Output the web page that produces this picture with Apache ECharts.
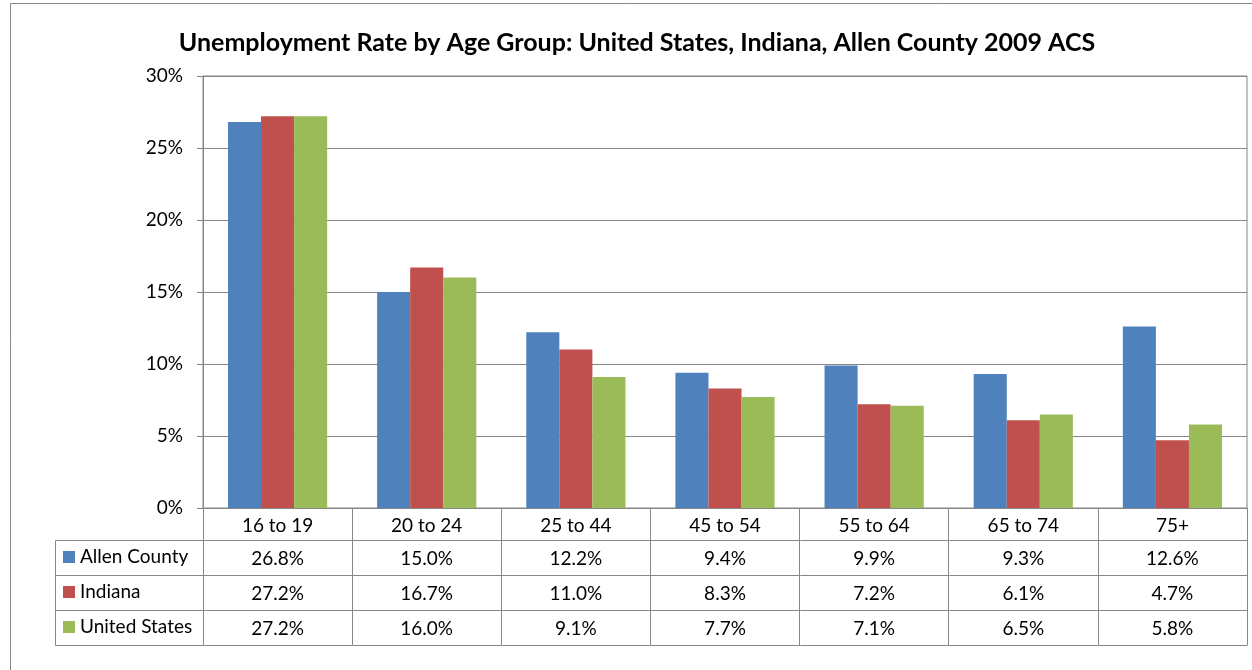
<!DOCTYPE html>
<html>
<head>
<meta charset="utf-8">
<script src="https://cdn.jsdelivr.net/npm/echarts@6/dist/echarts.min.js"></script>
<style>
  html, body { margin: 0; padding: 0; background: #fff; }
  #chart { width: 1252px; height: 670px; }
</style>
</head>
<body>
<div id="chart"></div>
<script>
  // Data
  const categories = ["16 to 19", "20 to 24", "25 to 44", "45 to 54", "55 to 64", "65 to 74", "75+"];
  const allenCounty = [26.8, 15.0, 12.2, 9.4, 9.9, 9.3, 12.6];
  const indiana = [27.2, 16.7, 11.0, 8.3, 7.2, 6.1, 4.7];
  const unitedStates = [27.2, 16.0, 9.1, 7.7, 7.1, 6.5, 5.8];
  const seriesNames = ["Allen County", "Indiana", "United States"];

  const FONT = "Lato";
  const FS = 19;
  const LINE = "#868686";
  const colors = ["#4F81BD", "#C0504D", "#9BBB59"];
  const rows = [allenCounty, indiana, unitedStates];

  // data table geometry (below the x axis)
  const HEADER_H = 32;
  const ROW_H = 35;
  const LEGEND_COL_W = 148;

  const chart = echarts.init(document.getElementById("chart"));

  const crisp = (v) => Math.round(v) + 0.5;

  function renderTable(params, api) {
    const i = api.value(0);
    const pt = api.coord([i, 0]);
    const w = api.size([1, 0])[0];
    const x0 = crisp(pt[0] - w / 2);
    const x1 = crisp(pt[0] + w / 2);
    const y0 = pt[1];
    const children = [];
    const hline = (xa, xb, y) => children.push({
      type: "line",
      shape: { x1: xa, y1: crisp(y), x2: xb, y2: crisp(y) },
      style: { stroke: LINE, lineWidth: 1 },
    });
    for (let r = 0; r <= rows.length; r++) {
      hline(x0, x1, y0 + HEADER_H + r * ROW_H);
    }
    rows.forEach((vals, r) => {
      children.push({
        type: "text",
        style: {
          text: vals[i].toFixed(1) + "%",
          x: pt[0],
          y: y0 + HEADER_H + r * ROW_H + ROW_H / 2 + 1,
          align: "center",
          verticalAlign: "middle",
          fontSize: FS,
          fontFamily: FONT,
          fill: "#000",
        },
      });
    });
    if (i === 0) {
      const xl = crisp(pt[0] - w / 2 - LEGEND_COL_W);
      for (let r = 0; r <= rows.length; r++) {
        hline(xl, x0, y0 + HEADER_H + r * ROW_H);
      }
      children.push({
        type: "line",
        shape: { x1: xl, y1: crisp(y0 + HEADER_H), x2: xl, y2: crisp(y0 + HEADER_H + rows.length * ROW_H) },
        style: { stroke: LINE, lineWidth: 1 },
      });
    }
    return { type: "group", children: children };
  }

  const barSeries = rows.map((vals, r) => ({
    name: seriesNames[r],
    type: "bar",
    data: vals,
    barGap: "0%",
    barCategoryGap: "33.5%",
    itemStyle: { color: colors[r] },
  }));

  const option = {
    backgroundColor: "#fff",
    animation: false,
    textStyle: { fontFamily: FONT },
    title: {
      text: "Unemployment Rate by Age Group: United States, Indiana, Allen County 2009 ACS",
      left: 632,
      textAlign: "center",
      top: 25,
      textStyle: { fontSize: 25, fontWeight: "bold", color: "#000", fontFamily: FONT },
    },
    legend: {
      data: seriesNames,
      orient: "vertical",
      left: 63,
      top: 547,
      padding: 0,
      icon: "rect",
      itemWidth: 12,
      itemHeight: 12,
      itemGap: 15,
      selectedMode: false,
      textStyle: { fontSize: FS, lineHeight: 20, color: "#000", fontFamily: FONT, padding: [0, 0, 0, 0] },
    },
    grid: {
      left: 203,
      right: 5,
      top: 76,
      bottom: 162,
      show: true,
      borderColor: LINE,
      borderWidth: 1,
    },
    xAxis: {
      type: "category",
      data: categories,
      axisLine: { lineStyle: { color: LINE, width: 1 } },
      axisTick: { show: true, length: HEADER_H + rows.length * ROW_H, lineStyle: { color: LINE } },
      axisLabel: { fontSize: FS, color: "#000", margin: 8, fontFamily: FONT },
    },
    yAxis: {
      type: "value",
      min: 0,
      max: 30,
      interval: 5,
      axisLine: { show: true, lineStyle: { color: LINE, width: 1 } },
      axisTick: { show: true, length: 6, lineStyle: { color: LINE } },
      axisLabel: { formatter: "{value}%", fontSize: FS, color: "#000", margin: 20, fontFamily: FONT },
      splitLine: { lineStyle: { color: LINE, width: 1 } },
    },
    graphic: [
      {
        type: "rect",
        shape: { x: 10.5, y: 3.5, width: 1400, height: 800 },
        style: { fill: "none", stroke: LINE, lineWidth: 1 },
        silent: true,
        z: -1,
      },
    ],
    series: barSeries.concat([
      {
        name: "table",
        type: "custom",
        data: categories.map((c, i) => [i]),
        encode: { x: 0 },
        renderItem: renderTable,
        clip: false,
        silent: true,
        z: 5,
      },
    ]),
  };

  chart.setOption(option);
</script>
</body>
</html>
